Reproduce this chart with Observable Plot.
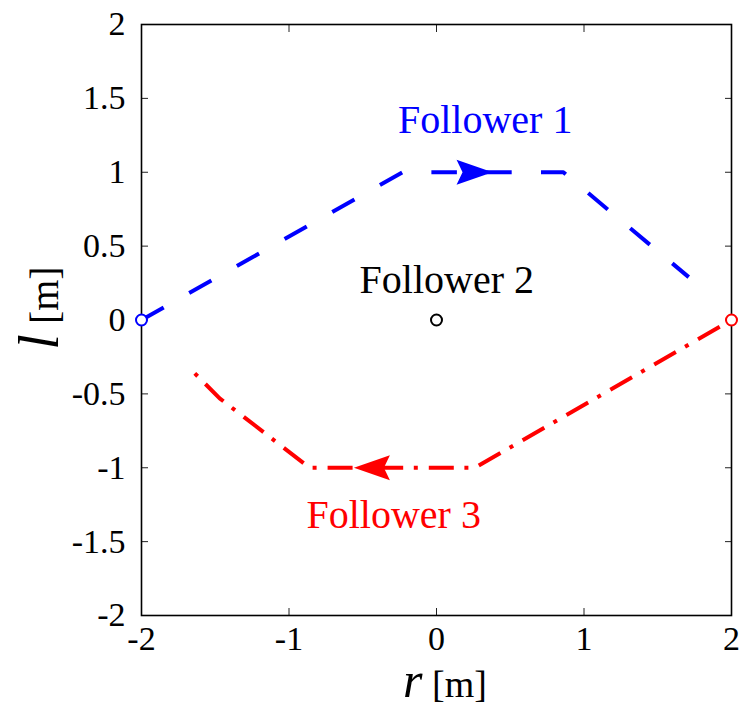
<!DOCTYPE html>
<html>
<head>
<meta charset="utf-8">
<script src="https://cdn.jsdelivr.net/npm/d3@7"></script>
<script src="https://cdn.jsdelivr.net/npm/@observablehq/plot@0.6"></script>
<style>
  html, body { margin: 0; padding: 0; background: #fff; }
  #chart svg { display: block; }
</style>
</head>
<body>
<div id="chart"></div>
<script>
// Formation paths of three followers in the (r, l) plane, metres
const follower1R = [-2, -0.23, 0.86, 1.71];
const follower1L = [0, 1, 1, 0.29];
const follower3R = [2, 0.26, -0.86, -1.47, -1.64];
const follower3L = [0, -1, -1, -0.53, -0.36];

// Start positions (open circles)
const startNames = ["Follower 1", "Follower 2", "Follower 3"];
const startR = [-2, 0, 2];
const startL = [0, 0, 0];
const startColors = ["#0000ff", "#000000", "#ff0000"];

// Direction arrows on the straight stretches (tip position, heading in degrees)
const arrowR = [0.38, -0.56];
const arrowL = [1, -1];
const arrowHeading = [90, -90];
const arrowColors = ["#0000ff", "#ff0000"];

// Name labels
const labelText = ["Follower 1", "Follower 2", "Follower 3"];
const labelR = [0.33, 0.07, -0.29];
const labelL = [1.35, 0.27, -1.32];
const labelColors = ["#0000ff", "#000000", "#ff0000"];

// Axis ticks
const xTicks = [-2, -1, 0, 1, 2];
const yTicks = [-2, -1.5, -1, -0.5, 0, 0.5, 1, 1.5, 2];

const path1 = follower1R.map((r, i) => ({r, l: follower1L[i]}));
const path3 = follower3R.map((r, i) => ({r, l: follower3L[i]}));
const starts = startNames.map((name, i) => ({name, r: startR[i], l: startL[i], color: startColors[i]}));
const arrows = arrowR.map((r, i) => ({r, l: arrowL[i], heading: arrowHeading[i], color: arrowColors[i]}));
const labels = labelText.map((text, i) => ({text, r: labelR[i], l: labelL[i], color: labelColors[i]}));

// Filled arrowhead with a shallow notch; tip at the origin, pointing up before rotation
const arrowHead = {
  draw(context, len) {
    context.moveTo(0, 0);
    context.lineTo(-12.5, len);
    context.lineTo(0, len - 6);
    context.lineTo(12.5, len);
    context.closePath();
  }
};

const serif = "'Liberation Serif', 'Times New Roman', serif";
const fmt = d => String(d);

const chart = Plot.plot({
  width: 739,
  height: 709,
  marginLeft: 141,
  marginRight: 8,
  marginTop: 24,
  marginBottom: 94,
  style: {fontFamily: serif, fontSize: "34px", color: "black", background: "white", overflow: "visible"},
  x: {domain: [-2, 2]},
  y: {domain: [-2, 2]},
  marks: [
    Plot.axisX(xTicks, {anchor: "bottom", tickSize: -7, tickPadding: 17, tickFormat: fmt, label: null, stroke: "#222", fontSize: 34}),
    Plot.axisX(xTicks, {anchor: "top", tickSize: -7, tickFormat: () => "", label: null, stroke: "#222"}),
    Plot.axisY(yTicks, {anchor: "left", tickSize: -7, tickPadding: 23, tickFormat: fmt, label: null, stroke: "#222", fontSize: 34}),
    Plot.axisY(yTicks, {anchor: "right", tickSize: -7, tickFormat: () => "", label: null, stroke: "#222"}),
    Plot.frame({stroke: "black", strokeWidth: 1.6}),
    Plot.line(path1, {x: "r", y: "l", stroke: "#0000ff", strokeWidth: 4, strokeDasharray: "25.5,29.3", strokeLinecap: "butt", strokeLinejoin: "round"}),
    Plot.line(path3, {x: "r", y: "l", stroke: "#ff0000", strokeWidth: 4, strokeDasharray: "25,11,4,10.6", strokeDashoffset: 37, strokeLinecap: "butt", strokeLinejoin: "round"}),
    Plot.vector(arrows, {x: "r", y: "l", rotate: "heading", length: 36, anchor: "start", shape: arrowHead, fill: "color", stroke: "none"}),
    Plot.dot(starts, {x: "r", y: "l", r: 5.5, stroke: "color", strokeWidth: 2, fill: "white"}),
    Plot.text(labels, {x: "r", y: "l", text: "text", fill: "color", fontSize: 40, textAnchor: "middle", lineAnchor: "middle"})
  ]
});

document.getElementById("chart").appendChild(chart);

// Axis titles with an italic variable name followed by the unit
const svg = d3.select(chart);
const xTitle = svg.append("text")
  .attr("x", 445).attr("y", 697)
  .attr("text-anchor", "middle")
  .attr("font-family", serif);
xTitle.append("tspan").attr("font-style", "italic").attr("font-size", 50).text("r");
xTitle.append("tspan").attr("font-size", 38).text(" [m]");

const yTitle = svg.append("text")
  .attr("transform", "translate(58,308) rotate(-90)")
  .attr("text-anchor", "middle")
  .attr("font-family", serif);
yTitle.append("tspan").attr("font-style", "italic").attr("font-size", 56).text("l");
yTitle.append("tspan").attr("font-size", 40).text(" [m]");
</script>
</body>
</html>
